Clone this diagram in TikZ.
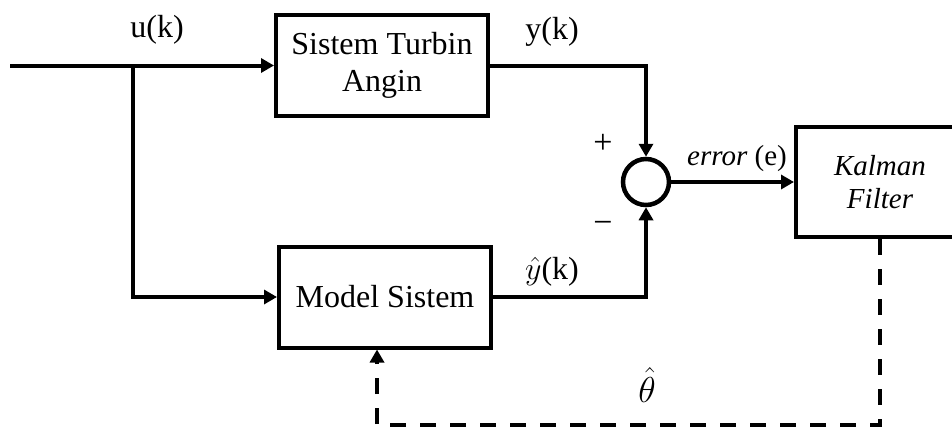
\RequirePackage{fix-cm}
\documentclass[tikz,border=0pt]{standalone}
\usepackage{fontspec}
\setmainfont{Liberation Serif}
\usetikzlibrary{arrows.meta,calc}
\begin{document}
\begin{tikzpicture}[x=1pt,y=-1pt,
  blk/.style={draw,line width=4pt,rectangle,inner sep=0pt,align=center,font=\fontsize{32}{37}\selectfont},
  wire/.style={line width=4pt},
  arr/.style={wire,-{Triangle[length=13pt,width=14pt]}},
  fb/.style={wire,dash pattern=on 16pt off 14pt},
  lbl/.style={inner sep=0pt,font=\fontsize{32}{37}\selectfont},
  sml/.style={inner sep=0pt,font=\fontsize{29}{33}\selectfont},
  sgn/.style={inner sep=0pt,font=\fontsize{34}{38}\selectfont},
]
\useasboundingbox (0,0) rectangle (952,428);
\clip (0,0) rectangle (952,428);
% blocks
\node[blk,minimum width=212pt,minimum height=101pt] (sys) at (382,65.5) {Sistem Turbin\\Angin};
\node[blk,minimum width=212pt,minimum height=101pt] (model) at (385,297) {Model Sistem};
\node[draw,circle,line width=4.5pt,minimum size=46pt,inner sep=0pt] (sum) at (646,182) {};
\node[blk,minimum width=168pt,minimum height=110pt,font=\fontsize{29}{33}\selectfont\itshape] (kal) at (880,182) {Kalman\\Filter};
% connectors
\coordinate (in) at (10,65.5);
\coordinate (br) at (133,65.5);
\draw[arr] (in) -- (sys.west);
\draw[arr] (br) |- (model.west);
\coordinate (yc) at (646,65.5);
\draw[arr] (sys.east) -- (yc) -- (sum.north);
\coordinate (yh) at (646,297);
\draw[arr] (model.east) -- (yh) -- (sum.south);
\draw[arr] (sum.east) -- (kal.west);
\coordinate (c1) at (880,425);
\coordinate (c2) at (377,425);
\draw[fb,-{Triangle[length=13pt,width=14pt]}] (kal.south) -- (c1) -- (c2) -- (c2 |- model.south);
% labels
\node[lbl] (lu) at (157,30) {u(k)};
\node[lbl] (ly) at (552,32) {y(k)};
\node[lbl] (lyh) at (552,272) {$\hat{y}$(k)};
\node[sgn] (lp) at (603,144) {+};
\node[sgn] (lm) at (603,227) {−};
\node[sml] (le) at (737,159) {\textit{error} (e)};
\node[lbl,font=\fontsize{36}{40}\selectfont] (lt) at (647,385) {$\hat{\theta}$};
\end{tikzpicture}
\end{document}
